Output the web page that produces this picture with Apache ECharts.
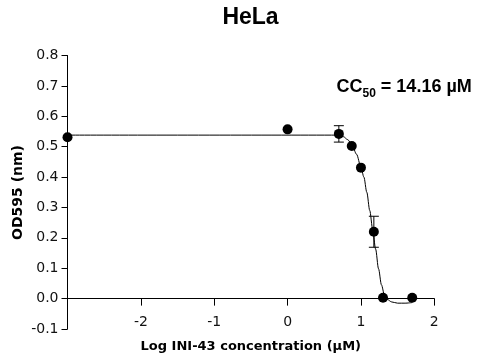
<!DOCTYPE html>
<html>
<head>
<meta charset="utf-8">
<script src="https://cdn.jsdelivr.net/npm/echarts@6/dist/echarts.min.js"></script>
<style>
  html, body { margin: 0; padding: 0; background: #fff; }
  #chart { width: 478px; height: 364px; }
</style>
</head>
<body>
<div id="chart"></div>
<script>
// Measured viability (OD595) of HeLa cells against log10 of INI-43 concentration (µM)
const logConc = [-3, 0, 0.699, 0.875, 1.0, 1.176, 1.301, 1.699];
const od595 = [0.531, 0.557, 0.542, 0.502, 0.431, 0.220, 0.003, 0.003];
const od595Sd = [0, 0, 0.027, 0, 0, 0.051, 0, 0];

// Fitted dose-response curve, traced point by point
const fitLogConc = [-3, 0.5, 0.7, 0.76, 0.82, 0.88, 0.94, 1.0, 1.04, 1.08, 1.12, 1.16, 1.2, 1.24, 1.28, 1.32, 1.36, 1.42, 1.5, 1.6, 1.7];
const fitOd = [0.538, 0.538, 0.538, 0.533, 0.523, 0.505, 0.475, 0.433, 0.400, 0.350, 0.290, 0.228, 0.163, 0.098, 0.045, 0.012, -0.003, -0.011, -0.015, -0.015, -0.013];

// Axis ticks
const xTicks = { min: -3, max: 2, step: 1 };
const yTicks = { min: -0.1, max: 0.8, step: 0.1 };

const titleText = 'HeLa';
const xName = 'Log INI-43 concentration (\u00b5M)';
const yName = 'OD595 (nm)';

const gridBox = { left: 67.5, right: 43.7, top: 55.5, bottom: 35 };
const plotHeight = 364 - gridBox.top - gridBox.bottom;
// the x axis sits on y = 0, so lift it from the grid bottom by that distance
const xAxisLift = plotHeight * (0 - yTicks.min) / (yTicks.max - yTicks.min);

const chart = echarts.init(document.getElementById('chart'), null, { renderer: 'canvas' });

const points = logConc.map((x, i) => [x, od595[i]]);
const errBars = logConc
  .map((x, i) => [x, od595[i], od595Sd[i]])
  .filter(d => d[2] > 0);
const fitLine = fitLogConc.map((x, i) => [x, fitOd[i]]);

const tickFont = 'DejaVu Sans';
const ink = '#000';

chart.setOption({
  animation: false,
  backgroundColor: '#fff',
  grid: Object.assign({ containLabel: false, outerBoundsMode: 'none' }, gridBox),
  xAxis: {
    type: 'value',
    min: xTicks.min, max: xTicks.max, interval: xTicks.step,
    offset: -xAxisLift,
    axisLine: { onZero: false, lineStyle: { color: ink, width: 1 } },
    axisTick: { show: true, length: 7, lineStyle: { color: ink } },
    axisLabel: {
      margin: 17, color: '#111', fontFamily: tickFont, fontSize: 14,
      formatter: v => (Math.abs(v - xTicks.min) < 1e-9 ? '' : String(Math.round(v)))
    },
    splitLine: { show: false }
  },
  yAxis: {
    type: 'value',
    min: yTicks.min, max: yTicks.max, interval: yTicks.step,
    axisLine: { show: true, onZero: false, lineStyle: { color: ink, width: 1 } },
    axisTick: { show: true, length: 6, lineStyle: { color: ink } },
    axisLabel: {
      margin: 9, color: '#111', fontFamily: tickFont, fontSize: 14,
      formatter: v => v.toFixed(1)
    },
    splitLine: { show: false }
  },
  series: [
    {
      type: 'line',
      data: fitLine,
      showSymbol: false,
      smooth: 0.3,
      smoothMonotone: 'x',
      lineStyle: { color: ink, width: 1 },
      z: 2
    },
    {
      type: 'custom',
      data: errBars,
      z: 3,
      renderItem: (params, api) => {
        const x = api.value(0), y = api.value(1), sd = api.value(2);
        const hi = api.coord([x, y + sd]);
        const lo = api.coord([x, y - sd]);
        const cap = 5;
        const st = { stroke: ink, lineWidth: 1 };
        return {
          type: 'group',
          children: [
            { type: 'line', shape: { x1: hi[0], y1: hi[1], x2: lo[0], y2: lo[1] }, style: st },
            { type: 'line', shape: { x1: hi[0] - cap, y1: hi[1], x2: hi[0] + cap, y2: hi[1] }, style: st },
            { type: 'line', shape: { x1: lo[0] - cap, y1: lo[1], x2: lo[0] + cap, y2: lo[1] }, style: st }
          ]
        };
      }
    },
    {
      type: 'scatter',
      data: points,
      symbol: 'circle',
      symbolSize: 10,
      itemStyle: { color: ink, opacity: 1 },
      z: 4
    }
  ],
  graphic: [
    {
      type: 'text', x: 250.5, y: 18,
      style: {
        text: titleText, font: 'bold 23px "Liberation Sans", Arial, sans-serif',
        fill: ink, align: 'center', verticalAlign: 'middle',
        textAlign: 'center', textVerticalAlign: 'middle'
      }
    },
    {
      type: 'text', x: 250.8, y: 347,
      style: {
        text: xName, font: 'bold 13px "DejaVu Sans", sans-serif',
        fill: ink, align: 'center', verticalAlign: 'middle',
        textAlign: 'center', textVerticalAlign: 'middle'
      }
    },
    {
      type: 'text', x: 18.5, y: 192.5, rotation: Math.PI / 2,
      style: {
        text: yName, font: 'bold 14px "DejaVu Sans", sans-serif',
        fill: ink, align: 'center', verticalAlign: 'middle',
        textAlign: 'center', textVerticalAlign: 'middle'
      }
    },
    {
      type: 'text', x: 336.5, y: 74,
      style: {
        text: '{m|CC}{s|50}{m| = 14.16 \u00b5M}',
        fill: ink,
        rich: {
          m: { fontFamily: '"Liberation Sans", Arial, sans-serif', fontWeight: 'bold', fontSize: 18, lineHeight: 26, fill: ink, color: ink },
          s: { fontFamily: '"Liberation Sans", Arial, sans-serif', fontWeight: 'bold', fontSize: 12, lineHeight: 12, verticalAlign: 'bottom', fill: ink, color: ink }
        }
      }
    }
  ]
});
</script>
</body>
</html>
